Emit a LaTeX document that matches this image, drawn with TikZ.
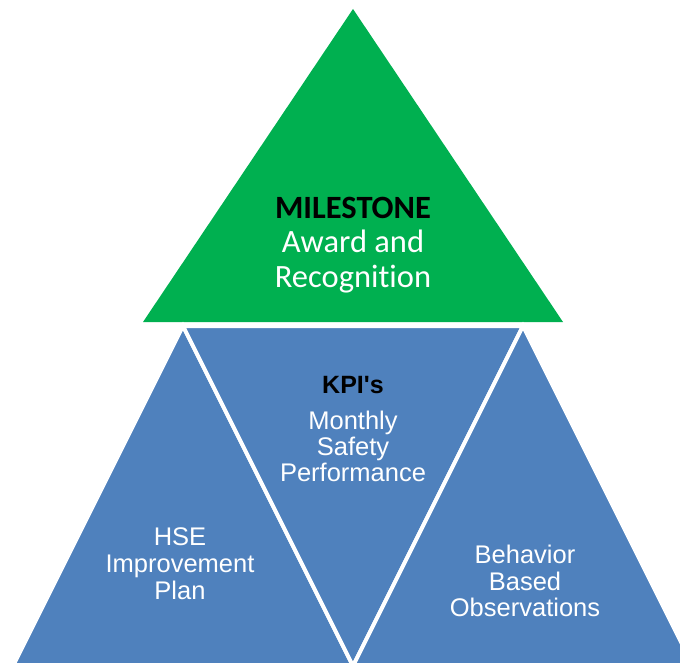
\documentclass[tikz,border=0pt]{standalone}
\usepackage{fontspec}
\setmainfont{Liberation Sans}
\newfontfamily\calibri{Carlito}[Ligatures=NoCommon]
\newfontfamily\plainarial{Liberation Sans}[Ligatures=TeXOff]
\usepackage{tikz}
\definecolor{msgreen}{HTML}{00B050}
\definecolor{kpiblue}{HTML}{4F81BD}

\begin{document}
\begin{tikzpicture}[x=1pt,y=-1pt]
	\useasboundingbox (0,0) rectangle (680,663);
	\clip (0,0) rectangle (680,663);

	\coordinate (apex) at (353,9);
	\coordinate (gl) at (143,322);
	\coordinate (gr) at (563,322);
	\coordinate (p1) at (183,326);
	\coordinate (p2) at (523,326);
	\coordinate (p3) at (353,666);
	\coordinate (p4) at (13,666);
	\coordinate (p5) at (693,666);

	\fill[msgreen] (apex) -- (gr) -- (gl) -- cycle;
	\filldraw[fill=kpiblue,draw=white,line width=4pt] (p1) -- (p3) -- (p4) -- cycle;
	\filldraw[fill=kpiblue,draw=white,line width=4pt] (p1) -- (p2) -- (p3) -- cycle;
	\filldraw[fill=kpiblue,draw=white,line width=4pt] (p2) -- (p5) -- (p3) -- cycle;

	\node[align=center,text=white,font=\calibri\fontsize{32.5}{34.5}\selectfont] (milestone) at (353,245) {{\color{black}\bfseries MILESTONE}\\Award and\\Recognition};
	\node[text=black,font=\plainarial\bfseries\fontsize{25}{27}\selectfont] (kpi) at (353,385) {KPI's};
	\node[align=center,text=white,font=\fontsize{25.5}{26}\selectfont] (safety) at (353,446) {Monthly\\Safety\\Performance};
	\node[align=center,text=white,font=\fontsize{25.5}{27}\selectfont] (hse) at (180,564) {HSE\\Improvement\\Plan};
	\node[align=center,text=white,font=\fontsize{25.5}{26.5}\selectfont] (bbo) at (525,581) {Behavior\\Based\\Observations};
\end{tikzpicture}
\end{document}
